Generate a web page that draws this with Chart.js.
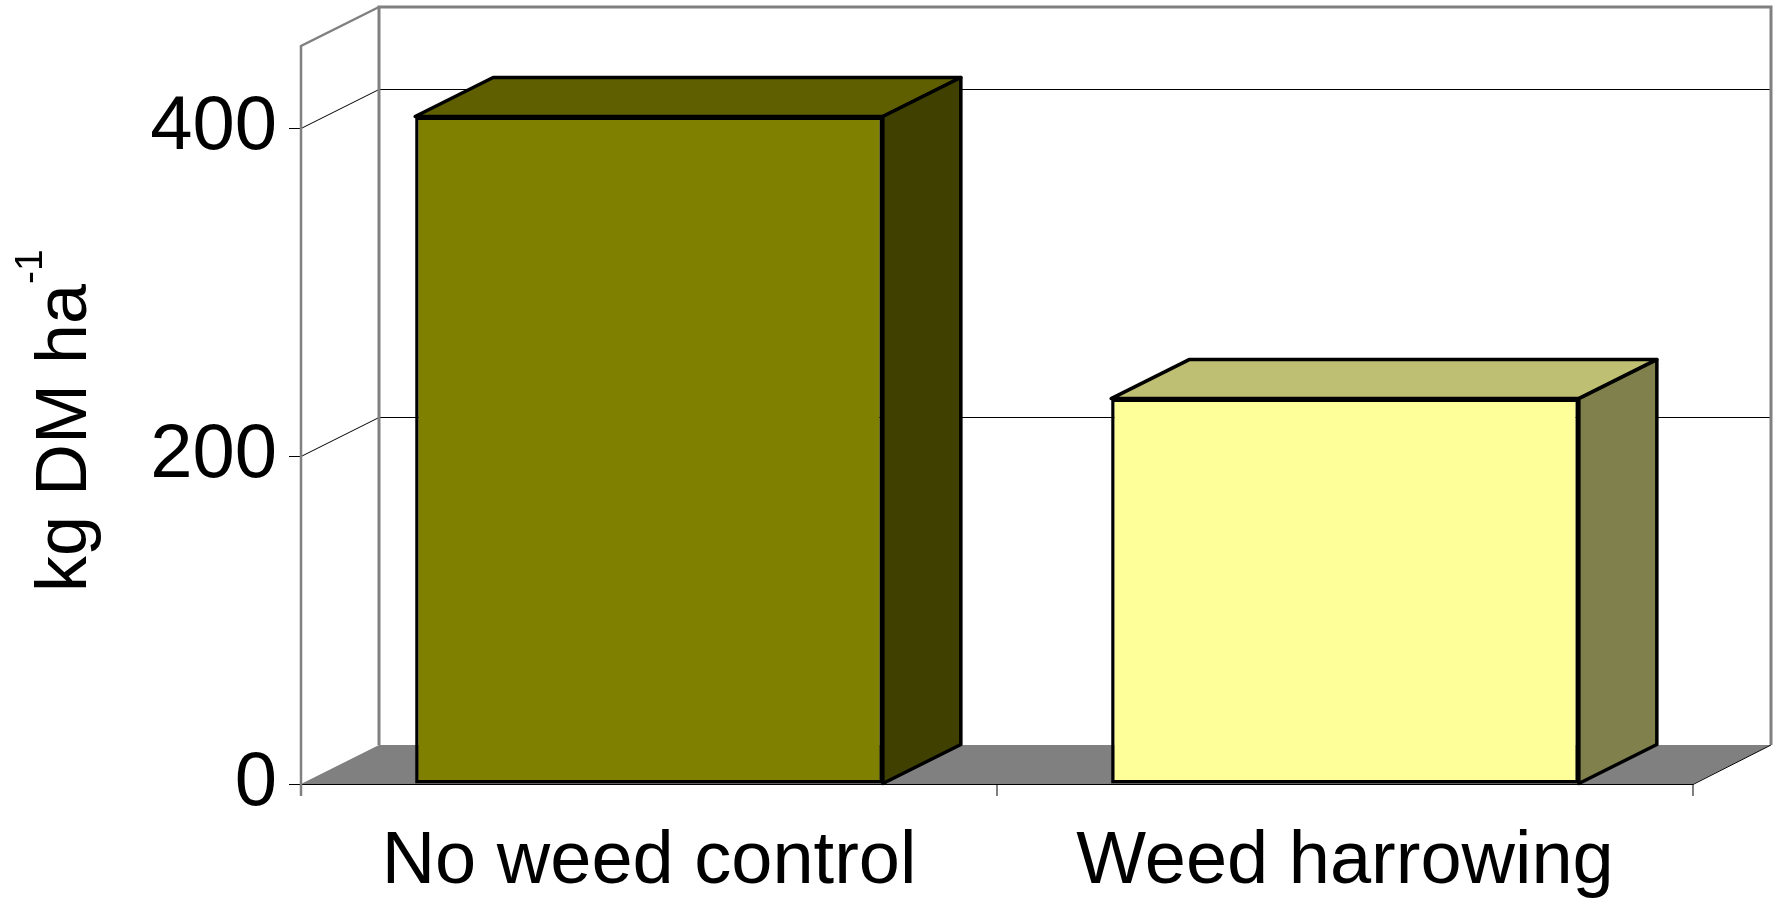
<!DOCTYPE html>
<html><head><meta charset="utf-8">
<script src="https://cdn.jsdelivr.net/npm/chart.js@4.4.1/dist/chart.umd.min.js"></script>
<style>html,body{margin:0;padding:0;background:#fff}#wrap{width:1779px;height:900px;position:relative}</style>
</head><body><div id="wrap"><canvas id="c"></canvas></div>
<script>
const categories = ['No weed control', 'Weed harrowing'];
const biomass = [407, 235];
const yTicks = [0, 200, 400];
const yMax = 450;
const axisTitle = 'kg DM ha';
const axisTitleSup = '-1';

const frontColors = ['#808000', '#FFFF99'];
const topColors = ['#5F5F00', '#BFBF73'];
const sideColors = ['#404000', '#80804C'];
const DX = 78, DY = -39;
const FONT = "'Liberation Sans', Arial, sans-serif";

const walls3d = {
  id: 'walls3d',
  beforeDatasetsDraw(chart) {
    const ctx = chart.ctx, a = chart.chartArea, y = chart.scales.y;
    ctx.save();
    ctx.fillStyle = '#fff';
    ctx.fillRect(a.left + DX, a.top + DY, a.width, a.height);
    ctx.beginPath();
    ctx.moveTo(a.left, a.bottom); ctx.lineTo(a.right, a.bottom);
    ctx.lineTo(a.right + DX, a.bottom + DY); ctx.lineTo(a.left + DX, a.bottom + DY);
    ctx.closePath();
    ctx.fillStyle = '#808080'; ctx.fill();
    ctx.strokeStyle = '#000'; ctx.lineWidth = 1;
    yTicks.forEach(v => {
      if (v === 0) return;
      const py = Math.round(y.getPixelForValue(v)) + 0.5;
      ctx.beginPath(); ctx.moveTo(a.left, py); ctx.lineTo(a.left + DX, py + DY); ctx.lineTo(a.right + DX, py + DY); ctx.stroke();
    });
    ctx.beginPath(); ctx.moveTo(a.left, a.bottom + 0.5); ctx.lineTo(a.right, a.bottom + 0.5); ctx.lineTo(a.right + DX, a.bottom + DY); ctx.stroke();
    ctx.strokeStyle = '#808080'; ctx.lineWidth = 3;
    ctx.beginPath();
    ctx.moveTo(a.left + DX, a.bottom + DY); ctx.lineTo(a.left + DX, a.top + DY);
    ctx.lineTo(a.right + DX, a.top + DY); ctx.lineTo(a.right + DX, a.bottom + DY);
    ctx.stroke();
    ctx.lineWidth = 2.5;
    ctx.beginPath(); ctx.moveTo(a.left, a.bottom + 12); ctx.lineTo(a.left, a.top); ctx.lineTo(a.left + DX, a.top + DY); ctx.stroke();
    const meta = chart.getDatasetMeta(0);
    meta.data.forEach((bar, i) => {
      const p = bar.getProps(['x', 'y', 'base', 'width'], true);
      const l = p.x - p.width / 2, r = p.x + p.width / 2, top = p.y, base = p.base;
      ctx.lineWidth = 3.5; ctx.strokeStyle = '#000'; ctx.lineJoin = 'round';
      ctx.beginPath(); ctx.moveTo(l, top); ctx.lineTo(l + DX, top + DY); ctx.lineTo(r + DX, top + DY); ctx.lineTo(r, top); ctx.closePath();
      ctx.fillStyle = topColors[i]; ctx.fill(); ctx.stroke();
      ctx.beginPath(); ctx.moveTo(r, top); ctx.lineTo(r + DX, top + DY); ctx.lineTo(r + DX, base + DY); ctx.lineTo(r, base); ctx.closePath();
      ctx.fillStyle = sideColors[i]; ctx.fill(); ctx.stroke();
    });
    ctx.restore();
  }
};

const yTitle = {
  id: 'yTitle',
  afterDraw(chart) {
    const ctx = chart.ctx;
    ctx.save();
    ctx.translate(86, 592);
    ctx.rotate(-Math.PI / 2);
    ctx.fillStyle = '#000';
    ctx.textBaseline = 'alphabetic';
    ctx.textAlign = 'left';
    ctx.font = '72px ' + FONT;
    ctx.fillText(axisTitle, 0, 0);
    const w = ctx.measureText(axisTitle).width;
    ctx.font = '39px ' + FONT;
    ctx.fillText(axisTitleSup, w, -44);
    ctx.restore();
  }
};

new Chart(document.getElementById('c'), {
  type: 'bar',
  data: {
    labels: categories,
    datasets: [{
      data: biomass,
      backgroundColor: frontColors,
      borderColor: '#000',
      borderWidth: 3.5,
      borderSkipped: false,
      categoryPercentage: 1,
      barPercentage: 0.672
    }]
  },
  options: {
    responsive: true, maintainAspectRatio: false, animation: false,
    layout: { padding: { top: 46, right: 86, left: 0, bottom: 0 } },
    plugins: { legend: { display: false }, tooltip: { enabled: false } },
    scales: {
      x: {
        grid: { display: true, offset: true, drawOnChartArea: false, tickLength: 12, color: '#808080', lineWidth: 2 },
        border: { display: false },
        ticks: { font: { family: FONT, size: 74, lineHeight: 1 }, color: '#000', padding: 30, maxRotation: 0, autoSkip: false },
        afterFit: s => { s.height = 116; s.paddingLeft = 0; s.paddingRight = 0; }
      },
      y: {
        min: 0, max: yMax,
        afterBuildTicks: s => { s.ticks = yTicks.map(v => ({ value: v })); },
        grid: { display: true, drawOnChartArea: false, tickLength: 12, color: '#000', lineWidth: 1 },
        border: { display: false },
        ticks: { font: { family: FONT, size: 76, lineHeight: 1 }, color: '#000', padding: 12 },
        afterFit: s => { s.width = 301; s.paddingTop = 0; s.paddingBottom = 0; }
      }
    }
  },
  plugins: [walls3d, yTitle]
});
</script>
</body></html>
